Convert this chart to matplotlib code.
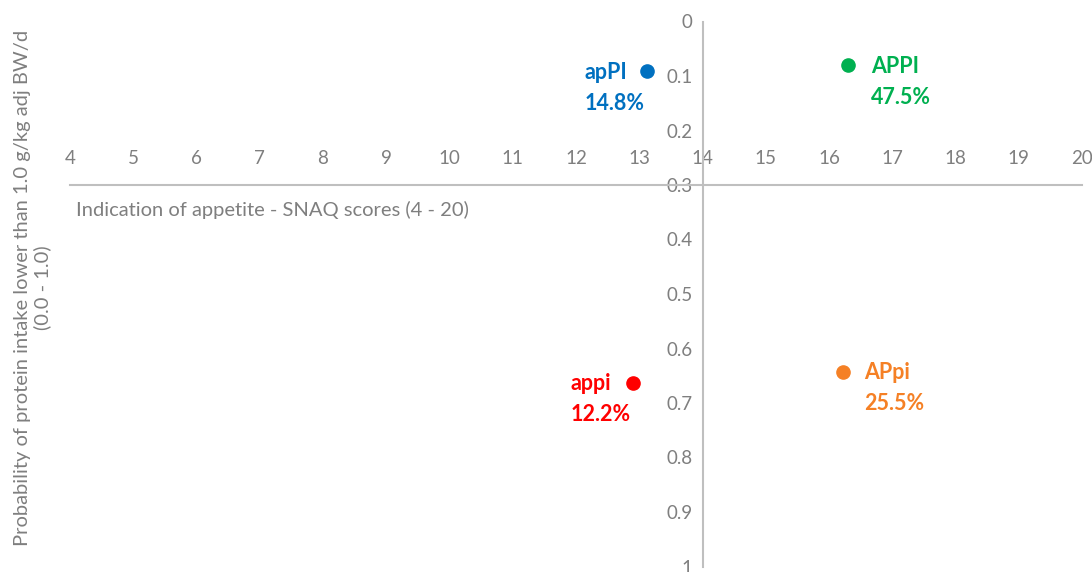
import matplotlib
matplotlib.use('Agg')
import matplotlib.pyplot as plt

# quadrant data (SNAQ score vs probability of low protein intake)
groups = ['apPI', 'APPI', 'appi', 'APpi']
snaq = [13.12, 16.3, 12.9, 16.22]
prob = [0.091, 0.08, 0.663, 0.643]
shares = ['14.8%', '47.5%', '12.2%', '25.5%']
colors = ['#0070C0', '#00B050', '#FF0000', '#F58025']
x_ticks = list(range(4, 21))
y_ticks = [0, 0.1, 0.2, 0.3, 0.4, 0.5, 0.6, 0.7, 0.8, 0.9, 1]
y_tick_labels = ['0', '0.1', '0.2', '0.3', '0.4', '0.5', '0.6', '0.7', '0.8', '0.9', '1']

plt.rcParams['font.family'] = ['Lato', 'DejaVu Sans']

fig = plt.figure(figsize=(10.92, 5.72), dpi=100)
ax = fig.add_axes([70 / 1092, 5.5 / 572, 1012 / 1092, 545 / 572])
ax.set_xlim(4, 20)
ax.set_ylim(1, 0)  # inverted probability axis

# spines crossing at (14, 0.3)
grey_line = '#BFBFBF'
ax.spines['right'].set_visible(False)
ax.spines['bottom'].set_visible(False)
ax.spines['left'].set_position(('data', 14))
ax.spines['top'].set_position(('data', 0.3))
for s in ['left', 'top']:
    ax.spines[s].set_color(grey_line)
    ax.spines[s].set_linewidth(1.5)
ax.xaxis.tick_top()
ax.set_xticks(x_ticks)
ax.set_yticks(y_ticks)
ax.set_yticklabels(y_tick_labels)
ax.tick_params(axis='both', length=0, labelsize=13.5, labelcolor='#7F7F7F')
ax.tick_params(axis='x', pad=13)
ax.tick_params(axis='y', pad=7)

# points with two-line labels (left edge offset from the point, in pixels)
offsets = [-62, 23, -62, 21]
for i in range(len(groups)):
    ax.plot(snaq[i], prob[i], 'o', color=colors[i], markersize=9.5)
    dx = offsets[i]
    ax.annotate(groups[i], (snaq[i], prob[i]), xytext=(dx, -1), textcoords='offset pixels',
                ha='left', va='center', color=colors[i], fontsize=15.5, fontweight='bold')
    ax.annotate(shares[i], (snaq[i], prob[i]), xytext=(dx, -32), textcoords='offset pixels',
                ha='left', va='center', color=colors[i], fontsize=15.5, fontweight='bold')

# axis titles
fig.text(76 / 1092, 1 - 210 / 572, 'Indication of appetite - SNAQ scores (4 - 20)',
         ha='left', va='center', fontsize=14.5, color='#7F7F7F')
fig.text(33 / 1092, 1 - 288 / 572,
         'Probability of protein intake lower than 1.0 g/kg adj BW/d\n(0.0 - 1.0)',
         ha='center', va='center', rotation=90, fontsize=14.5, color='#7F7F7F',
         multialignment='center', linespacing=1.15)

fig.savefig('out.png', dpi=100)
